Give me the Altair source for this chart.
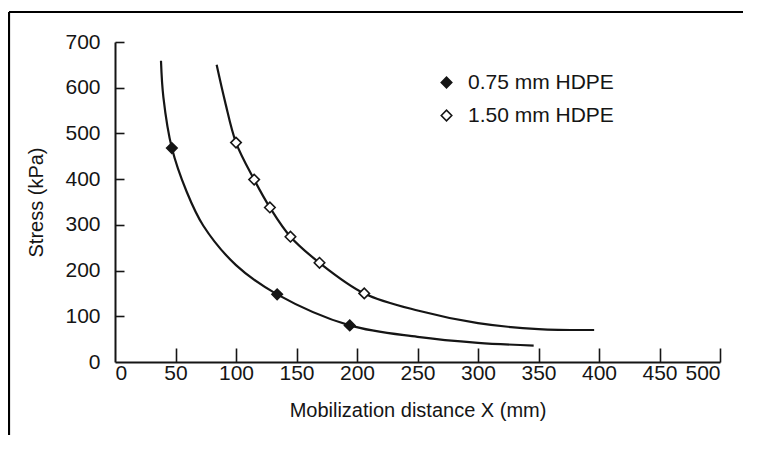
import altair as alt
import pandas as pd

# Smooth curves
thin_curve_x = [38, 40, 47, 59, 73, 100, 134, 194, 250, 300, 346]
thin_curve_y = [659, 579, 468, 374, 298, 212, 148, 80, 55, 42, 36]
thick_curve_x = [84, 91, 100, 115, 128, 145, 169, 206, 251, 300, 350, 396]
thick_curve_y = [650, 569, 480, 399, 338, 274, 217, 150, 112, 85, 72, 70]

# Measured points
thin_pts_x = [47, 134, 194]
thin_pts_y = [468, 148, 80]
thick_pts_x = [100, 115, 128, 145, 169, 206]
thick_pts_y = [480, 399, 338, 274, 217, 150]

series = ["0.75 mm HDPE", "1.50 mm HDPE"]
x_ticks = [0, 50, 100, 150, 200, 250, 300, 350, 400, 450, 500]
y_ticks = [0, 100, 200, 300, 400, 500, 600, 700]

FONT = "Liberation Sans"
INK = "#151515"

curves = pd.concat([
    pd.DataFrame({"x": thin_curve_x, "y": thin_curve_y, "series": series[0]}),
    pd.DataFrame({"x": thick_curve_x, "y": thick_curve_y, "series": series[1]}),
])
pts = pd.concat([
    pd.DataFrame({"x": thin_pts_x, "y": thin_pts_y, "series": series[0]}),
    pd.DataFrame({"x": thick_pts_x, "y": thick_pts_y, "series": series[1]}),
])

xs = alt.Scale(domain=[0, 500], nice=False)
ys = alt.Scale(domain=[0, 700], nice=False)

main_x_axis = alt.Axis(values=x_ticks, ticks=False, tickSize=0, labelPadding=0,
                       title="Mobilization distance X (mm)", titlePadding=17,
                       grid=False)
main_y_axis = alt.Axis(values=y_ticks, ticks=False, tickSize=0, labelPadding=15,
                       title="Stress (kPa)", titlePadding=18, grid=False)

lines = alt.Chart(curves).mark_line(color=INK, strokeWidth=2.2, interpolate="catmull-rom").encode(
    x=alt.X("x:Q", scale=xs, axis=main_x_axis),
    y=alt.Y("y:Q", scale=ys, axis=main_y_axis),
    detail="series:N",
)

tick_layer = alt.Chart(curves).mark_point(opacity=0).encode(
    x=alt.X("x:Q", scale=xs, axis=alt.Axis(orient="top", offset=-320, values=x_ticks[1:],
                                           labels=False, domain=False, title=None,
                                           tickSize=14, tickWidth=1.6, tickColor=INK, grid=False)),
    y=alt.Y("y:Q", scale=ys, axis=alt.Axis(orient="right", offset=-605, values=y_ticks[1:],
                                           labels=False, domain=False, title=None,
                                           tickSize=9, tickWidth=1.6, tickColor=INK, grid=False)),
)

points = alt.Chart(pts).mark_point(shape="diamond", filled=True, stroke=INK,
                                    strokeWidth=1.6, size=110, opacity=1).encode(
    x=alt.X("x:Q", scale=xs, axis=None),
    y=alt.Y("y:Q", scale=ys, axis=None),
    fill=alt.Fill("series:N", scale=alt.Scale(domain=series, range=[INK, "white"]),
                  legend=alt.Legend(title=None, orient="none", legendX=321, legendY=30,
                                    symbolType="diamond", symbolSize=110,
                                    symbolStrokeColor=INK, symbolStrokeWidth=1.6,
                                    labelFont=FONT, labelFontSize=21, labelColor=INK,
                                    labelOffset=11, rowPadding=11, padding=0)),
)

frame_top = alt.Chart(pd.DataFrame({"a": [0]})).mark_rule(
    color="black", strokeWidth=2.2, clip=False
).encode(
    x=alt.value(-106), x2=alt.value(628), y=alt.value(-30), y2=alt.value(-30),
)
frame_left = alt.Chart(pd.DataFrame({"b": [1]})).mark_rule(
    color="black", strokeWidth=2.2, clip=False
).encode(
    x=alt.value(-106), x2=alt.value(-106), y=alt.value(-30), y2=alt.value(393),
)

chart = alt.layer(lines, tick_layer, points, frame_top, frame_left).resolve_axis(
    x="independent", y="independent"
).properties(
    width=605, height=320,
    autosize=alt.AutoSizeParams(type="none"),
    padding={"left": 107, "top": 34, "right": 32, "bottom": 74},
).configure_view(stroke=None).configure_axis(
    labelFont=FONT, titleFont=FONT, labelFontSize=21, titleFontSize=20,
    labelColor=INK, titleColor=INK, titleFontWeight="normal",
    domainColor=INK, domainWidth=2,
)

chart.save("out.html", embed_options={"renderer": "svg", "actions": False})
